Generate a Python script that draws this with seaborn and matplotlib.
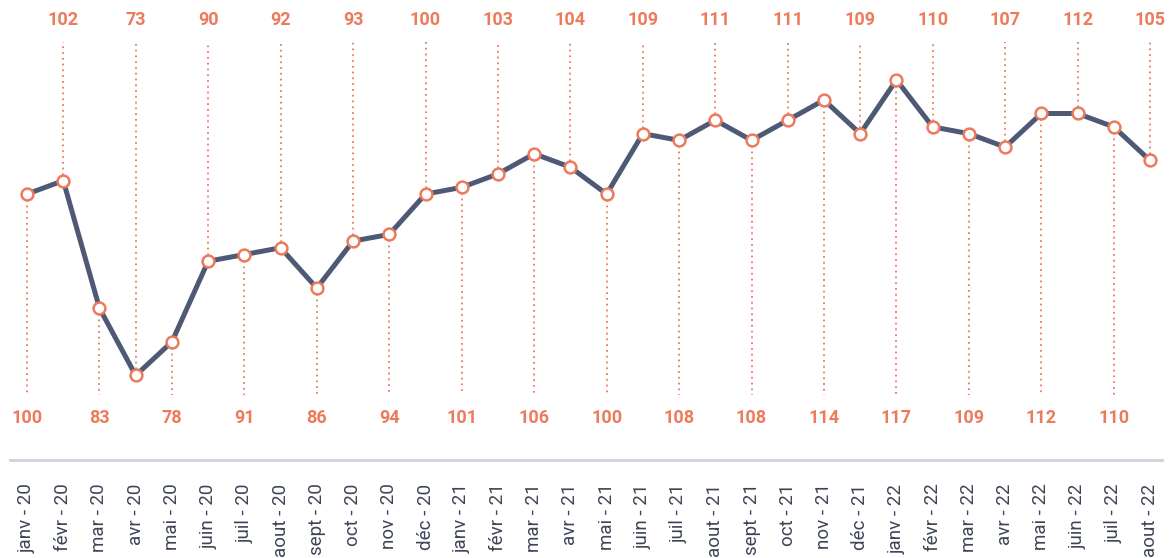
import matplotlib
matplotlib.use("Agg")
import matplotlib.pyplot as plt
import seaborn as sns
import pandas as pd

months = ["janv", "févr", "mar", "avr", "mai", "juin", "juil", "aout",
          "sept", "oct", "nov", "déc"]
years = ["20", "21", "22"]
labels = [f"{m} - {y}" for y in years for m in months][:32]
values = [100, 102, 83, 73, 78, 90, 91, 92, 86, 93, 94, 100,
          101, 103, 106, 104, 100, 109, 108, 111, 108, 111, 114, 109,
          117, 110, 109, 107, 112, 112, 110, 105]

line_color = "#4E5A75"
accent = "#EC7A5B"
axis_color = "#CDD2DA"
text_color = "#3D4457"

sns.set_style("white")
plt.rcParams["font.family"] = ["Roboto", "DejaVu Sans"]

df = pd.DataFrame({"idx": range(len(values)), "value": values})

fig = plt.figure(figsize=(11.71, 5.58), dpi=100)
ax = fig.add_axes([10 / 1171, 98 / 558, 1152 / 1171, 460 / 558])
ymin, ymax = 60.4, 128.9
ax.set_ylim(ymin, ymax)
ax.set_xlim(-0.47, 31.33)

def frac_to_val(f):
    return ymin + f * (ymax - ymin)

top_end = frac_to_val(1 - 42 / 460)
bot_end = frac_to_val(65 / 460)
top_lab = frac_to_val(1 - 20 / 460)
bot_lab = frac_to_val(42 / 460)

for i, v in enumerate(values):
    if i % 2 == 1:
        ax.plot([i, i], [v, top_end], ls=(0, (1, 2.2)), lw=1.3, color=accent, zorder=1)
        ax.text(i, top_lab, str(v), ha="center", va="center", color=accent,
                fontsize=13, fontweight="bold")
    else:
        ax.plot([i, i], [v, bot_end], ls=(0, (1, 2.2)), lw=1.3, color=accent, zorder=1)
        ax.text(i, bot_lab, str(v), ha="center", va="center", color=accent,
                fontsize=13, fontweight="bold")

sns.lineplot(data=df, x="idx", y="value", ax=ax, color=line_color, lw=3.6,
             marker="o", markersize=8.5, markerfacecolor="white",
             markeredgecolor=accent, markeredgewidth=1.8, zorder=3)

ax.set_xticks(range(len(labels)))
ax.set_xticklabels(labels, rotation=90, fontsize=13.5, color=text_color)
ax.tick_params(axis="x", length=0, pad=17)
ax.set_yticks([])
ax.set_xlabel("")
ax.set_ylabel("")
for side in ["top", "left", "right"]:
    ax.spines[side].set_visible(False)
ax.spines["bottom"].set_color(axis_color)
ax.spines["bottom"].set_linewidth(2)

fig.savefig("out.png", dpi=100)
